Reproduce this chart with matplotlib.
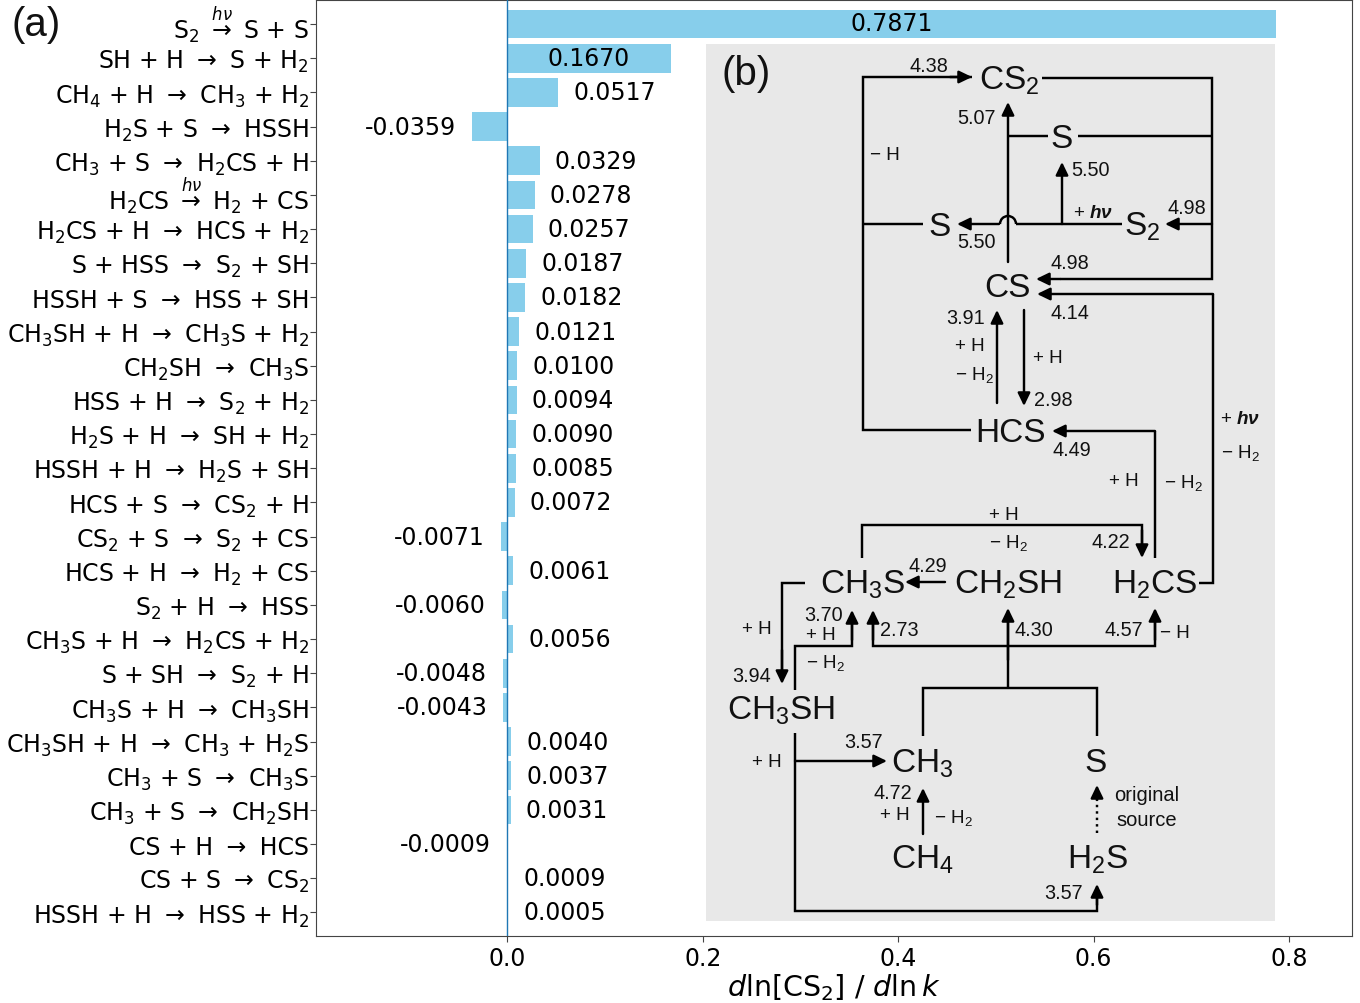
import matplotlib
matplotlib.use("Agg")
import matplotlib.pyplot as plt
from matplotlib.patches import Rectangle, Arc
from matplotlib.transforms import ScaledTranslation

plt.rcParams['mathtext.fontset'] = 'dejavusans'
plt.rcParams['mathtext.rm'] = 'Liberation Sans'
plt.rcParams['mathtext.it'] = 'Liberation Sans:italic'
plt.rcParams['mathtext.bf'] = 'Liberation Sans:bold'
plt.rcParams['mathtext.bfit'] = 'Liberation Sans:italic:bold'

reactions = [
    "S$_2$ $\\overset{h\\nu}{\\rightarrow}$ S + S",
    "SH + H → S + H$_2$",
    "CH$_4$ + H → CH$_3$ + H$_2$",
    "H$_2$S + S → HSSH",
    "CH$_3$ + S → H$_2$CS + H",
    "H$_2$CS $\\overset{h\\nu}{\\rightarrow}$ H$_2$ + CS",
    "H$_2$CS + H → HCS + H$_2$",
    "S + HSS → S$_2$ + SH",
    "HSSH + S → HSS + SH",
    "CH$_3$SH + H → CH$_3$S + H$_2$",
    "CH$_2$SH → CH$_3$S",
    "HSS + H → S$_2$ + H$_2$",
    "H$_2$S + H → SH + H$_2$",
    "HSSH + H → H$_2$S + SH",
    "HCS + S → CS$_2$ + H",
    "CS$_2$ + S → S$_2$ + CS",
    "HCS + H → H$_2$ + CS",
    "S$_2$ + H → HSS",
    "CH$_3$S + H → H$_2$CS + H$_2$",
    "S + SH → S$_2$ + H",
    "CH$_3$S + H → CH$_3$SH",
    "CH$_3$SH + H → CH$_3$ + H$_2$S",
    "CH$_3$ + S → CH$_3$S",
    "CH$_3$ + S → CH$_2$SH",
    "CS + H → HCS",
    "CS + S → CS$_2$",
    "HSSH + H → HSS + H$_2$",
]
sensitivity = [0.7871, 0.1670, 0.0517, -0.0359, 0.0329, 0.0278, 0.0257, 0.0187, 0.0182,
               0.0121, 0.0100, 0.0094, 0.0090, 0.0085, 0.0072, -0.0071, 0.0061, -0.0060,
               0.0056, -0.0048, -0.0043, 0.0040, 0.0037, 0.0031, -0.0009, 0.0009, 0.0005]
xticks = [0.0, 0.2, 0.4, 0.6, 0.8]
BAR = "#87CEEB"
FS = 17

W, H = 1360, 1004
fig = plt.figure(figsize=(W/100, H/100), dpi=100)
ax = fig.add_axes([316/W, 1-937/H, (1352-316)/W, (937-0.5)/H])
pos = list(range(len(reactions)))
ax.barh(pos, sensitivity, height=0.84, color=BAR, zorder=2)
ax.axvline(0, color="#1f77b4", lw=1.0, zorder=3)
ax.set_xlim(-0.196, 0.8645)
ax.set_ylim(26.69, -0.72)
ax.set_yticks(pos)
ax.set_yticklabels([r.replace(" → ", "\u2005 → \u2005") for r in reactions], fontsize=FS)
ax.set_xticks(xticks)
ax.tick_params(axis='x', labelsize=FS, length=4, color="#444444", pad=3)
ax.tick_params(axis='y', length=4, color="#444444", pad=1)
for s in ax.spines.values():
    s.set_color("#444444")
ax.set_xlabel(r"$d\mathrm{ln[CS_2]}$ / $d\mathrm{ln}\,k$", fontsize=20.5, labelpad=1)
for lab in ax.get_yticklabels():
    if "overset" in lab.get_text():
        lab.set_transform(lab.get_transform() + ScaledTranslation(0, 3/100, fig.dpi_scale_trans))

for i, v in enumerate(sensitivity):
    if i <= 1:
        ax.text(v/2, i-0.02, f"{v:.4f}", ha='center', va='center', fontsize=FS, zorder=5)
    elif v > 0:
        ax.annotate(f"{v:.4f}", (v, i), xytext=(11, 0), textcoords='offset points',
                    ha='left', va='center', fontsize=FS, zorder=5)
    else:
        ax.annotate(f"{v:.4f}", (v, i), xytext=(-11.5, 0), textcoords='offset points',
                    ha='right', va='center', fontsize=FS, zorder=5)

# Pixel-addressed overlay for the pathway schematic
ov = fig.add_axes([0, 0, 1, 1], facecolor='none', zorder=10)
ov.set_xlim(0, W); ov.set_ylim(H-1, -1); ov.axis('off')
FONT = 'Liberation Sans'
LW = 1.75
ov.add_patch(Rectangle((706, 44), 569, 877, fc="#E8E8E8", ec='none', zorder=0))

def T(x, y, s, size=12.5, **k):
    ov.text(x, y-1, s, fontsize=size, family=FONT, math_fontfamily='custom',
            ha=k.pop('ha', 'center'), va=k.pop('va', 'center_baseline'), color='#111111', zorder=4, **k)

def L(*pts, ls='-'):
    ov.plot([p[0] for p in pts], [p[1] for p in pts], color='black', lw=LW, ls=ls,
            solid_joinstyle='miter', solid_capstyle='butt', zorder=2)

def A(p0, p1):
    ov.annotate("", xy=p1, xytext=p0, zorder=3,
                arrowprops=dict(arrowstyle="-|>,head_length=0.62,head_width=0.3", mutation_scale=12.5,
                                color='black', lw=LW, shrinkA=0, shrinkB=0))

# polylines
L((972, 77), (863, 77), (863, 430), (971, 430))
L((863, 224), (923, 224))
L((1042, 78), (1212, 78), (1212, 279), (1060, 279))
L((1009, 136), (1048, 136))
L((1078, 136), (1212, 136))
L((1213, 294), (1213, 583), (1199, 583))
L((1155, 431), (1155, 558))
L((862, 558), (862, 525), (1142, 525), (1142, 545))
L((805, 583), (782, 583), (782, 670))
L((795, 690), (795, 646), (852, 646), (852, 620))
L((873, 622), (873, 646), (1155, 646), (1155, 620))
L((923, 736), (923, 688), (1097, 688), (1097, 736))
L((1008, 688), (1008, 620))
L((795, 733), (795, 911), (1097, 911), (1097, 895))

# arrows
A((950, 77), (972, 77))
A((1008, 262), (1008, 102))
A((999, 224), (957, 224))
L((1122, 224), (1016, 224))
ov.add_patch(Arc((1008, 224), 16, 16, theta1=180, theta2=360, color='black', lw=LW, zorder=2))
A((1062, 224), (1062, 162))
A((1212, 224), (1165, 224))
A((1060, 279), (1036, 279))
A((1213, 294), (1037, 294))
A((997, 403), (997, 310))
A((1024, 310), (1024, 406))
A((1155, 431), (1052, 431))
A((1142, 530), (1142, 558))
A((782, 650), (782, 684))
A((852, 640), (852, 610))
A((945, 582), (905, 582))
A((873, 640), (873, 610))
A((1155, 640), (1155, 608))
A((1008, 660), (1008, 608))
A((1097, 905), (1097, 884))
A((795, 761), (887, 761))
A((923, 834), (923, 788))
L((1097, 833), (1097, 798), ls=':')
A((1097, 800), (1097, 785))

# species
for x, y, s, ha in [
    (979, 77, r"CS$_{\mathrm{2}}$", 'left'), (1062, 136, "S", 'center'), (940, 224, "S", 'center'),
    (1124, 223, r"S$_{\mathrm{2}}$", 'left'), (1007, 285, "CS", 'center'), (1011, 430, "HCS", 'center'),
    (820, 581, r"CH$_{\mathrm{3}}$S", 'left'), (954, 581, r"CH$_{\mathrm{2}}$SH", 'left'),
    (1112, 581, r"H$_{\mathrm{2}}$CS", 'left'), (727, 707, r"CH$_{\mathrm{3}}$SH", 'left'),
    (891, 760, r"CH$_{\mathrm{3}}$", 'left'), (1096, 760, "S", 'center'),
    (891, 856, r"CH$_{\mathrm{4}}$", 'left'), (1067, 856, r"H$_{\mathrm{2}}$S", 'left'),
]:
    T(x, y, s, size=24, ha=ha)

# numbers
for x, y, s in [
    (929, 65, "4.38"), (977, 116, "5.07"), (1091, 168, "5.50"), (1187, 207, "4.98"), (977, 241, "5.50"),
    (1070, 262, "4.98"), (1070, 312, "4.14"), (966, 317, "3.91"), (1053, 399, "2.98"), (1072, 449, "4.49"),
    (1111, 541, "4.22"), (928, 565, "4.29"), (824, 614, "3.70"), (899, 629, "2.73"), (1034, 629, "4.30"),
    (1124, 629, "4.57"), (752, 675, "3.94"), (864, 741, "3.57"), (893, 792, "4.72"), (1064, 892, "3.57"),
]:
    T(x, y, s, size=14.3)

# reaction annotations
for x, y, s in [
    (885, 153, "− H"), (970, 345, "+ H"), (1048, 357, "+ H"), (974, 373, r"− H$_{\mathrm{2}}$"),
    (1124, 480, "+ H"), (1183, 481, r"− H$_{\mathrm{2}}$"), (1240, 451, r"− H$_{\mathrm{2}}$"),
    (1004, 513, "+ H"), (1008, 541, r"− H$_{\mathrm{2}}$"), (757, 628, "+ H"), (821, 634, "+ H"),
    (825, 661, r"− H$_{\mathrm{2}}$"), (1175, 632, "− H"), (767, 761, "+ H"), (895, 814, "+ H"),
    (953, 816, r"− H$_{\mathrm{2}}$"),
]:
    T(x, y, s, size=13.6)
T(1093, 212, r"+ $\mathbfit{h\nu}$", size=13.6)
T(1240, 418, r"+ $\mathbfit{h\nu}$", size=13.6)
T(1147, 794, "original", size=14.5)
T(1147, 819, "source", size=14.5)

# panel letters
T(12, 21, "(a)", size=29, ha='left')
T(721, 70, "(b)", size=29, ha='left')

fig.savefig("out.png", dpi=100)
